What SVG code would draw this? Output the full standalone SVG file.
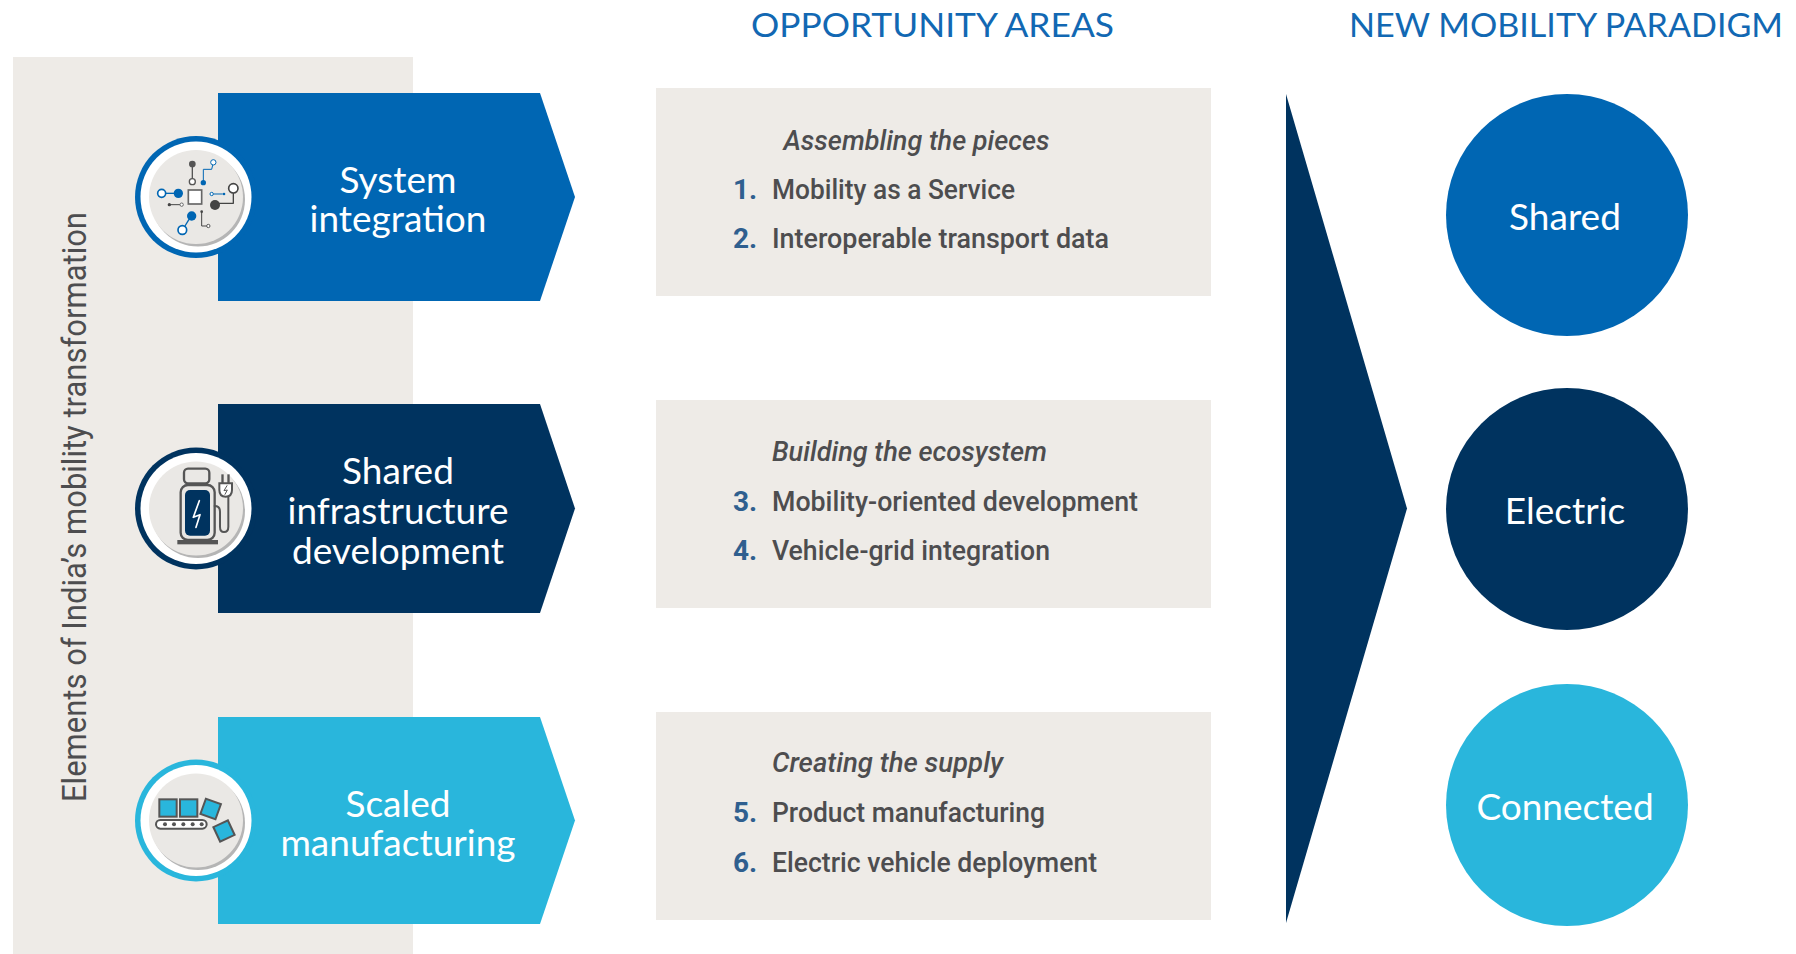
<svg xmlns="http://www.w3.org/2000/svg" width="1796" height="954" viewBox="0 0 1796 954">
<style>
.hdr{font-family:Lato,"Liberation Sans",sans-serif;font-size:33px;fill:#1268B3}
.plab{font-family:Lato,"Liberation Sans",sans-serif;font-size:37px;fill:#ffffff;text-anchor:middle}
.clab{font-family:Lato,"Liberation Sans",sans-serif;font-size:37px;fill:#ffffff;text-anchor:middle}
.ttl{font-family:Roboto,"Liberation Sans",sans-serif;font-size:28px;font-style:italic;font-weight:500;fill:#4D4D4F}
.itm{font-family:Roboto,"Liberation Sans",sans-serif;font-size:28px;font-weight:500;fill:#4D4D4F}
.num{font-family:Roboto,"Liberation Sans",sans-serif;font-size:28px;font-weight:700;fill:#2F5F8F}
.box{fill:#EEEBE7}
.ln{fill:none;stroke-linecap:round;stroke-linejoin:round}
.white{fill:#ffffff}
.shadow{fill:#B5B5B5}
.disk{fill:#EAE8E5}
</style>
<defs>
<g id="ringbase">
<circle cx="0" cy="0" r="55.5" class="white"/>
<circle cx="2" cy="2.5" r="47" class="shadow"/>
<circle cx="0" cy="0" r="47" class="disk"/>
</g>
</defs>
<rect width="1796" height="954" fill="#ffffff"/>
<rect x="13" y="57" width="400" height="897" class="box"/>
<text transform="translate(86,802) rotate(-90)" font-family="Roboto,'Liberation Sans',sans-serif" font-size="34" fill="#4D4D4F" textLength="590" lengthAdjust="spacingAndGlyphs">Elements of India’s mobility transformation</text>

<text class="hdr" x="751" y="37" textLength="363" lengthAdjust="spacingAndGlyphs">OPPORTUNITY AREAS</text>
<text class="hdr" x="1349" y="37" textLength="434" lengthAdjust="spacingAndGlyphs">NEW MOBILITY PARADIGM</text>

<g id="connectors">
<polygon points="1286,94 1407,508.5 1286,923" fill="#00335F"/>
</g>

<g id="element-system-integration">
<polygon points="218,93 540,93 575,197 540,301 218,301" fill="#0066B3"/>
<text class="plab"><tspan x="398" y="193">System</tspan><tspan x="398" y="232">integration</tspan></text>
<circle cx="196" cy="197" r="61" fill="#0066B3"/>
<use href="#ringbase" x="196" y="197"/>
<g transform="translate(120,120) scale(0.33333)">
<rect x="205" y="210" width="40" height="42" fill="#fff" stroke="#666" stroke-width="5"/>
<line x1="137" y1="220" x2="162" y2="220" stroke="#0066B3" stroke-width="4"/>
<circle cx="125" cy="220" r="12" fill="#fff" stroke="#0066B3" stroke-width="5"/>
<circle cx="175" cy="220" r="14" fill="#0066B3"/>
<line x1="148" y1="254" x2="180" y2="254" stroke="#444" stroke-width="3"/>
<circle cx="148" cy="254" r="5" fill="#444"/>
<circle cx="185" cy="254" r="5" fill="#fff" stroke="#666" stroke-width="3"/>
<line x1="217" y1="140" x2="217" y2="176" stroke="#555" stroke-width="4"/>
<circle cx="217" cy="132" r="10" fill="#555"/>
<circle cx="217" cy="185" r="9" fill="#fff" stroke="#555" stroke-width="4"/>
<polyline class="ln" points="250,182 250,148 275,148 278,136" stroke="#0066B3" stroke-width="3"/>
<circle cx="250" cy="188" r="8" fill="#0066B3"/>
<circle cx="280" cy="127" r="8" fill="#fff" stroke="#0066B3" stroke-width="3"/>
<line x1="280" y1="222" x2="308" y2="222" stroke="#0066B3" stroke-width="3"/>
<circle cx="275" cy="222" r="5" fill="#fff" stroke="#0066B3" stroke-width="3"/>
<circle cx="312" cy="222" r="4" fill="#0066B3"/>
<polyline class="ln" points="340,219 340,250 298,250" stroke="#444" stroke-width="4"/>
<circle cx="340" cy="205" r="14" fill="#fff" stroke="#444" stroke-width="5"/>
<circle cx="285" cy="255" r="15" fill="#444"/>
<line x1="207" y1="298" x2="195" y2="318" stroke="#0066B3" stroke-width="4"/>
<circle cx="215" cy="288" r="14" fill="#0066B3"/>
<circle cx="187" cy="330" r="13" fill="#fff" stroke="#0066B3" stroke-width="5"/>
<polyline class="ln" points="245,275 245,318 260,318" stroke="#444" stroke-width="3"/>
<circle cx="245" cy="275" r="4" fill="#444"/>
<circle cx="265" cy="318" r="5" fill="#fff" stroke="#555" stroke-width="3"/>
</g>
</g>

<g id="element-shared-infrastructure">
<polygon points="218,404 540,404 575,508.5 540,613 218,613" fill="#00335F"/>
<text class="plab"><tspan x="398" y="484">Shared</tspan><tspan x="398" y="524">infrastructure</tspan><tspan x="398" y="564">development</tspan></text>
<circle cx="196" cy="508.5" r="61" fill="#00335F"/>
<use href="#ringbase" x="196" y="508.5"/>
<g transform="translate(120,430) scale(0.33333)">
<rect x="192" y="116" width="76" height="44" rx="12" fill="none" stroke="#555" stroke-width="7"/>
<rect x="182" y="165" width="102" height="165" rx="22" fill="#EAE8E5" stroke="#555" stroke-width="7"/>
<rect x="195" y="180" width="75" height="137" rx="15" fill="#00335F"/>
<polyline class="ln" points="238,212 220,262 240,254 228,292" stroke="#fff" stroke-width="5"/>
<rect x="172" y="330" width="122" height="13" fill="#555"/>
<path class="ln" d="M284,228 Q300,228 300,245 L300,290 Q300,306 312,306 Q325,306 325,290 L325,200" stroke="#555" stroke-width="6"/>
<rect x="304" y="133" width="7" height="27" fill="#555"/>
<rect x="322" y="133" width="7" height="27" fill="#555"/>
<path d="M298,160 L336,160 L336,180 Q336,200 317,200 Q298,200 298,180 Z" fill="#fff" stroke="#555" stroke-width="6"/>
<polyline class="ln" points="321,167 312,182 322,180 315,193" stroke="#555" stroke-width="3"/>
</g>
</g>

<g id="element-scaled-manufacturing">
<polygon points="218,717 540,717 575,820.5 540,924 218,924" fill="#29B6DC"/>
<text class="plab"><tspan x="398" y="817">Scaled</tspan><tspan x="398" y="856">manufacturing</tspan></text>
<circle cx="196" cy="820.5" r="61" fill="#29B6DC"/>
<use href="#ringbase" x="196" y="820.5"/>
<g transform="translate(120,745) scale(0.33333)">
<rect x="108" y="225" width="152" height="26" rx="13" fill="#fff" stroke="#555" stroke-width="6"/>
<circle cx="135" cy="238" r="6" fill="#555"/>
<circle cx="162" cy="238" r="6" fill="#555"/>
<circle cx="190" cy="238" r="6" fill="#555"/>
<circle cx="218" cy="238" r="6" fill="#555"/>
<circle cx="245" cy="238" r="6" fill="#555"/>
<rect x="118" y="163" width="52" height="52" fill="#29B6DC" stroke="#555" stroke-width="6"/>
<rect x="180" y="163" width="52" height="52" fill="#29B6DC" stroke="#555" stroke-width="6"/>
<rect x="248" y="168" width="48" height="48" fill="#29B6DC" stroke="#555" stroke-width="6" transform="rotate(20 272 192)"/>
<rect x="288" y="234" width="48" height="48" fill="#29B6DC" stroke="#555" stroke-width="6" transform="rotate(-25 312 258)"/>
</g>
</g>

<g id="area-assembling">
<rect x="656" y="88" width="555" height="208" class="box"/>
<text class="ttl" x="783.5" y="150" textLength="266" lengthAdjust="spacingAndGlyphs">Assembling the pieces</text>
<text class="num" x="733" y="199">1.</text>
<text class="itm" x="772" y="199" textLength="243" lengthAdjust="spacingAndGlyphs">Mobility as a Service</text>
<text class="num" x="733" y="248">2.</text>
<text class="itm" x="772" y="248" textLength="337" lengthAdjust="spacingAndGlyphs">Interoperable transport data</text>
</g>

<g id="area-building">
<rect x="656" y="400" width="555" height="208" class="box"/>
<text class="ttl" x="772" y="461" textLength="275" lengthAdjust="spacingAndGlyphs">Building the ecosystem</text>
<text class="num" x="733" y="510.5">3.</text>
<text class="itm" x="772" y="510.5" textLength="366" lengthAdjust="spacingAndGlyphs">Mobility-oriented development</text>
<text class="num" x="733" y="560">4.</text>
<text class="itm" x="772" y="560" textLength="278" lengthAdjust="spacingAndGlyphs">Vehicle-grid integration</text>
</g>

<g id="area-creating">
<rect x="656" y="712" width="555" height="208" class="box"/>
<text class="ttl" x="772" y="772" textLength="231" lengthAdjust="spacingAndGlyphs">Creating the supply</text>
<text class="num" x="733" y="822">5.</text>
<text class="itm" x="772" y="822" textLength="273" lengthAdjust="spacingAndGlyphs">Product manufacturing</text>
<text class="num" x="733" y="872">6.</text>
<text class="itm" x="772" y="872" textLength="325" lengthAdjust="spacingAndGlyphs">Electric vehicle deployment</text>
</g>

<g id="paradigm-shared">
<circle cx="1567" cy="215" r="121" fill="#0066B3"/>
<text class="clab" x="1565" y="230">Shared</text>
</g>
<g id="paradigm-electric">
<circle cx="1567" cy="509" r="121" fill="#00335F"/>
<text class="clab" x="1565" y="524">Electric</text>
</g>
<g id="paradigm-connected">
<circle cx="1567" cy="805" r="121" fill="#29B6DC"/>
<text class="clab" x="1565" y="820">Connected</text>
</g>
</svg>
